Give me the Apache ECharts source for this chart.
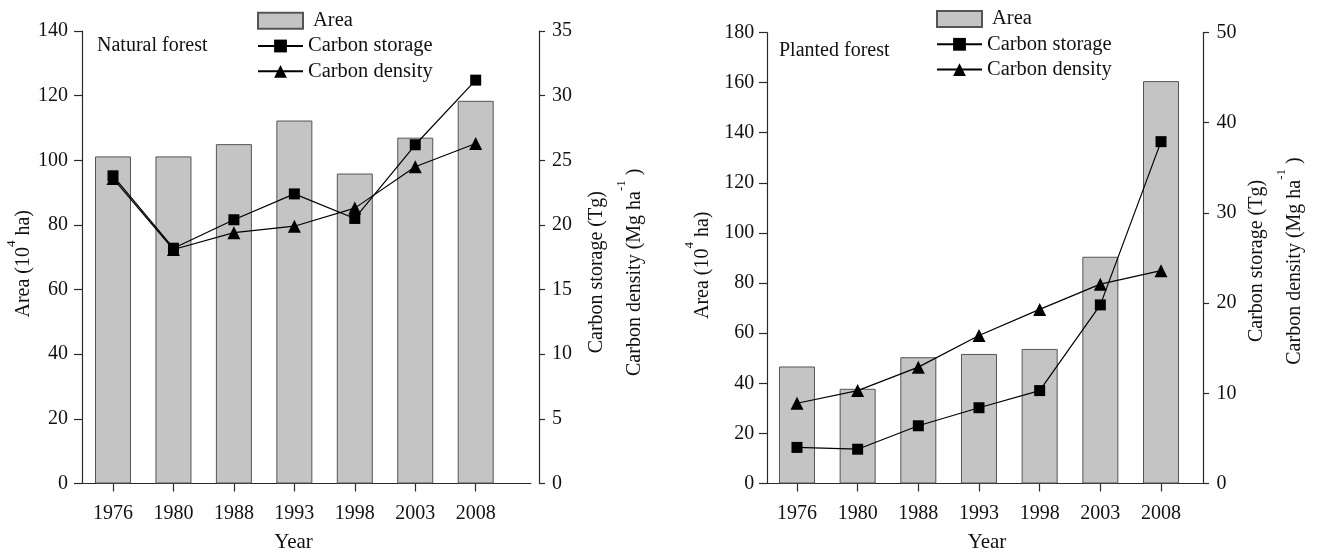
<!DOCTYPE html>
<html>
<head>
<meta charset="utf-8">
<title>Natural and planted forest: area and carbon</title>
<script src="https://cdn.jsdelivr.net/npm/echarts@6/dist/echarts.min.js"></script>
<style>
  html, body { margin: 0; padding: 0; background: #ffffff; }
  #chart { width: 1318px; height: 558px; }
</style>
</head>
<body>
<div id="chart"></div>
<script>
// Survey years (shared x categories)
const years = ['1976', '1980', '1988', '1993', '1998', '2003', '2008'];

// Natural forest
const naturalArea = [101.2, 101.2, 105.0, 112.3, 95.9, 107.0, 118.4];   // 10^4 ha
const naturalStorage = [23.8, 18.2, 20.4, 22.4, 20.5, 26.2, 31.2];      // Tg
const naturalDensity = [23.6, 18.1, 19.4, 19.9, 21.3, 24.5, 26.3];      // Mg ha-1

// Planted forest
const plantedArea = [46.7, 37.8, 50.4, 51.7, 53.7, 90.5, 160.6];        // 10^4 ha
const plantedStorage = [4.0, 3.8, 6.4, 8.4, 10.3, 19.8, 37.9];          // Tg
const plantedDensity = [8.9, 10.3, 12.9, 16.4, 19.3, 22.1, 23.6];       // Mg ha-1

// Panel titles and series names
const panelTitles = ['Natural forest', 'Planted forest'];
const seriesNames = ['Area', 'Carbon storage', 'Carbon density'];
const yearTickPositions = years.map((_, i) => i);

const FONT = 'Liberation Serif';
const INK = '#111111';
const LINE_STYLE = { color: '#2a2a2a', width: 1.2 };
const AXIS_LINE = { show: true, onZero: false, lineStyle: LINE_STYLE };

const pairs = arr => arr.map((v, i) => [i, v]);

const nameRich = {
  n: { fontFamily: FONT, fontSize: 20, lineHeight: 38, color: INK },
  s: { fontFamily: FONT, fontSize: 13, lineHeight: 13, verticalAlign: 'top', color: INK }
};

function yearAxis(gridIndex, min, max, namePad) {
  return {
    gridIndex, type: 'value', min, max,
    axisLine: AXIS_LINE,
    axisTick: { show: true, length: 8, customValues: yearTickPositions, lineStyle: LINE_STYLE },
    axisLabel: {
      fontFamily: FONT, fontSize: 20, color: INK, margin: 20,
      customValues: yearTickPositions,
      formatter: v => years[Math.round(v)] || ''
    },
    splitLine: { show: false },
    name: 'Year', nameLocation: 'middle', nameGap: 49,
    nameTextStyle: { fontFamily: FONT, fontSize: 21, lineHeight: 20, color: INK, padding: namePad }
  };
}

function areaAxis(gridIndex, max, labelMargin, nameGap, namePad) {
  return {
    gridIndex, type: 'value', position: 'left', min: 0, max, interval: 20,
    axisLine: AXIS_LINE,
    axisTick: { show: true, length: 8, lineStyle: LINE_STYLE },
    axisLabel: { fontFamily: FONT, fontSize: 20, color: INK, margin: labelMargin },
    splitLine: { show: false },
    name: '{n|Area (10}{s|4}{n| ha)}',
    nameLocation: 'middle', nameRotate: 90, nameGap,
    nameTextStyle: { fontFamily: FONT, fontSize: 20, color: INK, padding: namePad, rich: nameRich }
  };
}

function carbonAxis(gridIndex, max, interval, offset, labelMargin, nameGap, namePad) {
  return {
    gridIndex, type: 'value', position: 'right', offset, min: 0, max, interval,
    axisLine: AXIS_LINE,
    axisTick: { show: true, length: 6, lineStyle: LINE_STYLE },
    axisLabel: { fontFamily: FONT, fontSize: 20, color: INK, margin: labelMargin },
    splitLine: { show: false },
    name: '{n|Carbon storage (Tg)}\n{n|Carbon density (Mg ha}{s|-1}{n| )}',
    nameLocation: 'middle', nameRotate: 90, nameGap,
    nameTextStyle: { fontFamily: FONT, fontSize: 20, color: INK, padding: namePad, rich: nameRich }
  };
}

function panelSeries(axisBase, area, storage, density) {
  return [
    {
      type: 'bar', name: seriesNames[0],
      xAxisIndex: axisBase / 2, yAxisIndex: axisBase,
      data: pairs(area), barWidth: 36,
      itemStyle: { color: '#c4c4c4', borderColor: '#555555', borderWidth: 1 }
    },
    {
      type: 'line', name: seriesNames[1],
      xAxisIndex: axisBase / 2, yAxisIndex: axisBase + 1,
      data: pairs(storage), symbol: 'rect', symbolSize: 11,
      itemStyle: { color: '#000000' }, lineStyle: { color: '#000000', width: 1.2 }
    },
    {
      type: 'line', name: seriesNames[2],
      xAxisIndex: axisBase / 2, yAxisIndex: axisBase + 1,
      data: pairs(density), symbol: 'triangle', symbolSize: 13,
      itemStyle: { color: '#000000' }, lineStyle: { color: '#000000', width: 1.2 }
    }
  ];
}

function panelLegend(left, top) {
  return {
    left, top, orient: 'vertical', padding: 0,
    itemWidth: 45, itemHeight: 16, itemGap: 4.3,
    textStyle: { fontFamily: FONT, fontSize: 20.5, color: INK },
    data: [
      { name: seriesNames[0], icon: 'rect', textStyle: { padding: [0, 0, 0, 5] } },
      { name: seriesNames[1] },
      { name: seriesNames[2] }
    ]
  };
}

const chart = echarts.init(document.getElementById('chart'), null, { renderer: 'canvas' });

chart.setOption({
  animation: false,
  backgroundColor: '#ffffff',
  textStyle: { fontFamily: FONT, color: INK },
  title: [
    { text: panelTitles[0], left: 97, top: 36, padding: 0,
      textStyle: { fontFamily: FONT, fontSize: 20, fontWeight: 'normal', color: INK, lineHeight: 20 } },
    { text: panelTitles[1], left: 779, top: 41, padding: 0,
      textStyle: { fontFamily: FONT, fontSize: 20, fontWeight: 'normal', color: INK, lineHeight: 20 } }
  ],
  legend: [panelLegend(257, 10.2), panelLegend(936, 8.5)],
  grid: [
    { left: 82, top: 31, width: 449, height: 457, containLabel: false },
    { left: 767, top: 32.5, width: 436, height: 456.5, containLabel: false }
  ],
  xAxis: [
    yearAxis(0, -0.513, 6.915, [0, 26, 0, 0]),
    yearAxis(1, -0.494, 6.692, [0, 0, 0, 4])
  ],
  yAxis: [
    areaAxis(0, 140, 14, 31, [0, 13, 0, 0]),
    carbonAxis(0, 35, 5, 8, 13, 38.5, [0, 30, 0, 0]),
    areaAxis(1, 180, 12.7, 45.7, [0, 14.5, 0, 0]),
    carbonAxis(1, 50, 10, 0, 13.5, 34.5, [0, 6, 0, 0])
  ],
  series: [
    ...panelSeries(0, naturalArea, naturalStorage, naturalDensity),
    ...panelSeries(2, plantedArea, plantedStorage, plantedDensity)
  ]
});
</script>
</body>
</html>
